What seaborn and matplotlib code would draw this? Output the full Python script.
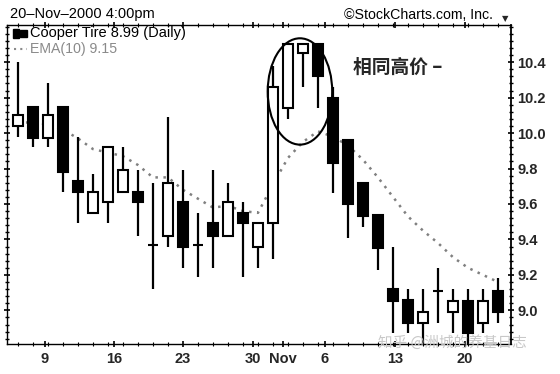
import matplotlib
matplotlib.use("Agg")
import matplotlib.pyplot as plt
import seaborn as sns
import numpy as np
import pandas as pd
from matplotlib.patches import Ellipse, Rectangle
from matplotlib.ticker import MultipleLocator, FixedLocator

# ---- data ----
opens  = [10.04, 10.15, 9.97, 10.15, 9.73, 9.55, 9.61, 9.67, 9.67, 9.37,
          9.42, 9.61, 9.37, 9.49, 9.42, 9.55, 9.36, 9.49, 10.14, 10.45,
          10.50, 10.20, 9.96, 9.72, 9.54, 9.12, 9.06, 8.93, 9.11, 8.99,
          9.05, 8.93, 9.11]
highs  = [10.40, 10.15, 10.28, 10.15, 9.98, 9.77, 9.92, 9.92, 9.79, 9.72,
          10.09, 9.79, 9.55, 9.79, 9.72, 9.61, 9.49, 10.38, 10.50, 10.50,
          10.50, 10.26, 9.96, 9.72, 9.54, 9.36, 9.12, 9.12, 9.24, 9.12,
          9.12, 9.12, 9.18]
lows   = [9.98, 9.92, 9.92, 9.67, 9.49, 9.55, 9.49, 9.67, 9.42, 9.12,
          9.36, 9.24, 9.19, 9.24, 9.42, 9.19, 9.24, 9.29, 10.08, 10.26,
          10.14, 9.66, 9.41, 9.47, 9.23, 8.87, 8.87, 8.81, 8.93, 8.87,
          8.81, 8.87, 8.93]
closes = [10.10, 9.97, 10.10, 9.78, 9.67, 9.67, 9.92, 9.79, 9.61, 9.37,
          9.72, 9.36, 9.37, 9.42, 9.61, 9.49, 9.49, 10.26, 10.50, 10.50,
          10.32, 9.83, 9.60, 9.53, 9.35, 9.05, 8.93, 8.99, 9.11, 9.05,
          8.87, 9.05, 8.99]
ema10  = [10.06, 10.06, 10.05, 10.02, 9.97, 9.91, 9.89, 9.87, 9.82, 9.75,
          9.75, 9.68, 9.63, 9.58, 9.59, 9.56, 9.55, 9.71, 9.86, 9.95,
          10.01, 9.98, 9.93, 9.85, 9.75, 9.64, 9.53, 9.45, 9.38, 9.30,
          9.24, 9.20, 9.16]
tick_pos    = [1.8, 6.4, 11.0, 15.67, 17.67, 20.47, 25.13, 29.8]
tick_labels = ["9", "16", "23", "30", "Nov", "6", "13", "20"]
price_ticks = [9.0, 9.2, 9.4, 9.6, 9.8, 10.0, 10.2, 10.4]

sns.set_theme(style="ticks")
plt.rcParams['font.family'] = ['Liberation Sans', 'Noto Sans CJK SC', 'DejaVu Sans']

fig = plt.figure(figsize=(5.6, 3.74), dpi=100)
ax = fig.add_axes([7/560, 1 - 344/374, (511 - 7)/560, (344 - 25)/374])

idx = np.arange(len(opens))
df = pd.DataFrame({"i": idx, "ema": ema10})

# EMA dotted line
sns.lineplot(data=df, x="i", y="ema", ax=ax, color="#808080",
             linewidth=1.8, linestyle=(0, (1, 2.2)), zorder=1)

bw = 0.66
for i, (o, h, l, c) in enumerate(zip(opens, highs, lows, closes)):
    ax.vlines(i, l, h, color="black", linewidth=1.6, zorder=2)
    bottom = min(o, c)
    height = abs(c - o)
    up = c >= o
    rect = Rectangle((i - bw / 2, bottom), bw, height,
                     facecolor="white" if up else "black",
                     edgecolor="black", linewidth=1.5, zorder=3)
    ax.add_patch(rect)

# annotation ellipse and text
ax.add_patch(Ellipse((18.8, 10.235), 4.3, 0.60, fill=False,
                     edgecolor="black", linewidth=1.5, zorder=4))
ax.text(22.33, 10.37, "相同高价 –", fontsize=13.5, fontweight="bold",
        ha="left", va="center", family=['Noto Sans CJK SC', 'DejaVu Sans'])

ax.set_xlim(-0.73, 32.87)
ax.set_ylim(8.81, 10.61)
ax.set_xlabel("")
ax.set_ylabel("")

ax.xaxis.set_major_locator(FixedLocator(tick_pos))
ax.set_xticklabels(tick_labels, fontsize=10.5, fontweight="bold")
ax.xaxis.set_minor_locator(MultipleLocator(1))
ax.yaxis.set_major_locator(FixedLocator(price_ticks))
ax.set_yticklabels([f"{v:.1f}" for v in price_ticks], fontsize=10.5, fontweight="bold")
ax.yaxis.set_minor_locator(MultipleLocator(0.04))

ax.tick_params(axis="y", which="both", left=True, right=True,
               labelleft=False, labelright=True, direction="inout", color="black")
ax.tick_params(axis="y", which="major", length=5, width=1.2, pad=2)
ax.tick_params(axis="y", which="minor", length=3, width=1.0)
ax.tick_params(axis="x", which="both", direction="inout", color="black", top=True)
ax.tick_params(axis="x", which="major", length=5, width=1.2, pad=3)
ax.tick_params(axis="x", which="minor", length=2.5, width=0.8)

for s in ax.spines.values():
    s.set_color("black")
    s.set_linewidth(1.0)
ax.spines["right"].set_linewidth(1.3)
ax.spines["left"].set_linestyle((0, (2, 1)))

# header texts
fig.text(10/560, 1 - 14/374, "20–Nov–2000 4:00pm", fontsize=10.5,
         ha="left", va="center", color="black")
fig.text(493/560, 1 - 15/374, "©StockCharts.com, Inc.", fontsize=10.2,
         ha="right", va="center", color="black")
fig.text(505/560, 1 - 19/374, "▼", fontsize=6, ha="center", va="center",
         family=['DejaVu Sans'])

# legend
fig.patches.append(Rectangle((13/560, 1 - 38/374), 6/560, 9/374,
                             transform=fig.transFigure, facecolor="black",
                             edgecolor="black", figure=fig))
fig.patches.append(Rectangle((20/560, 1 - 37/374), 7/560, 7/374,
                             transform=fig.transFigure, facecolor="black",
                             edgecolor="black", figure=fig))
fig.text(30/560, 1 - 33/374, "Cooper Tire 8.99 (Daily)", fontsize=10.5,
         ha="left", va="center", color="black")
fig.lines.append(plt.Line2D([14/560, 27/560], [1 - 49/374, 1 - 49/374],
                            transform=fig.transFigure, color="#8a8a8a",
                            linewidth=1.5, linestyle=(0, (1, 2))))
fig.text(30/560, 1 - 49/374, "EMA(10) 9.15", fontsize=10.2,
         ha="left", va="center", color="#8a8a8a")

# watermark
fig.text(378/560, 1 - 342/374, "知乎 @洲城的养基日志", fontsize=10.5,
         ha="left", va="center", color="#c8c8c8",
         family=['Noto Sans CJK SC', 'DejaVu Sans'], zorder=10)

fig.savefig("out.png", dpi=100)
